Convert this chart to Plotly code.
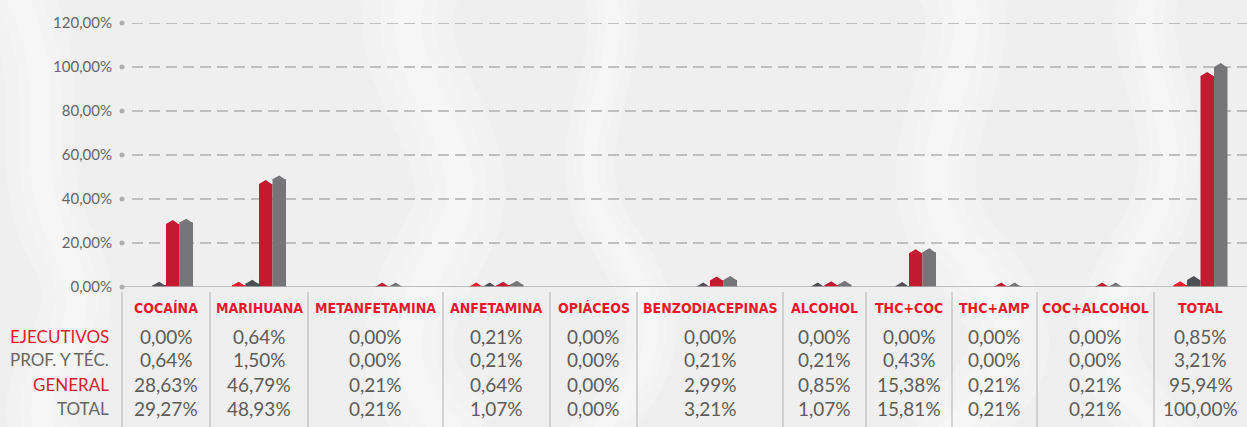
import plotly.graph_objects as go

# ---------------- data ----------------
categories = ["COCAÍNA", "MARIHUANA", "METANFETAMINA", "ANFETAMINA", "OPIÁCEOS",
              "BENZODIACEPINAS", "ALCOHOL", "THC+COC", "THC+AMP", "COC+ALCOHOL", "TOTAL"]
series_names = ["EJECUTIVOS", "PROF. Y TÉC.", "GENERAL", "TOTAL"]
ejecutivos = [0.00, 0.64, 0.00, 0.21, 0.00, 0.00, 0.00, 0.00, 0.00, 0.00, 0.85]
prof_tec = [0.64, 1.50, 0.00, 0.21, 0.00, 0.21, 0.21, 0.43, 0.00, 0.00, 3.21]
general = [28.63, 46.79, 0.21, 0.64, 0.00, 2.99, 0.85, 15.38, 0.21, 0.21, 95.94]
total = [29.27, 48.93, 0.21, 1.07, 0.00, 3.21, 1.07, 15.81, 0.21, 0.21, 100.00]
y_ticks = [0, 20, 40, 60, 80, 100, 120]


def pct(v):
    return f"{v:.2f}".replace(".", ",") + "%"


# ---------------- layout / style ----------------
W, H = 1247, 427
PLOT_LEFT, PLOT_TOP, PLOT_BOTTOM = 122, 23, 287
col_edges = [122, 210, 308, 443, 550, 637, 783, 866, 952, 1037, 1154, 1247]
centers = [(a + b) / 2 for a, b in zip(col_edges[:-1], col_edges[1:])]
bar_w = 13.5
bar_colors = ["#EC1C2D", "#4D4F53", "#C21A30", "#767679"]
label_colors = ["#E31B2E", "#666666", "#D21D33", "#666666"]
roof = 1.8  # roof height in y units
RED = "#E41A2C"
GRID = "#AEAEAE"
TXT = "#5C5C5C"
BG = "#EFEFEF"
VAL_FONT = "Lato, sans-serif"
HEAD_FONT = "DejaVu Sans Condensed, Liberation Sans Narrow, sans-serif"

series = [ejecutivos, prof_tec, general, total]


def px(p):
    """pixel column -> paper x (paper spans the whole width, margins l=r=0)"""
    return p / W


def py(p):
    """pixel row -> paper y"""
    return (PLOT_BOTTOM - p) / (PLOT_BOTTOM - PLOT_TOP)


fig = go.Figure()

for i, (name, vals) in enumerate(zip(series_names, series)):
    off = -2 * bar_w + i * bar_w
    fig.add_trace(go.Bar(
        x=centers, y=vals, width=bar_w, offset=off, name=name,
        marker=dict(color=bar_colors[i], line=dict(width=0)),
        hoverinfo="skip", showlegend=False))
    # pitched "roof" on top of each bar
    rx, ry = [], []
    for c, v in zip(centers, vals):
        if v <= 0:
            continue
        x0 = c + off
        rx += [x0, x0, x0 + bar_w / 2, x0 + bar_w, x0 + bar_w, x0, None]
        ry += [max(v - 0.3, 0), v, v + roof, v, max(v - 0.3, 0), max(v - 0.3, 0), None]
    fig.add_trace(go.Scatter(
        x=rx, y=ry, mode="lines", fill="toself", fillcolor=bar_colors[i],
        line=dict(width=0, color=bar_colors[i]), hoverinfo="skip",
        showlegend=False, connectgaps=False))

# dots at the start of each grid line
fig.add_trace(go.Scatter(
    x=[PLOT_LEFT] * len(y_ticks), y=y_ticks, mode="markers",
    marker=dict(size=5, color=GRID), cliponaxis=False,
    hoverinfo="skip", showlegend=False))

shapes = []
# soft white smoke bands in the background
smoke = [
    ("M 0.00 1.2 C 0.06 0.8, 0.01 0.5, 0.05 0.15 S 0.01 -0.3, 0.04 -0.6", 70),
    ("M 0.34 1.2 C 0.29 0.85, 0.40 0.55, 0.36 0.2 S 0.31 -0.3, 0.37 -0.6", 90),
    ("M 0.48 1.2 C 0.52 0.9, 0.44 0.55, 0.49 0.2 S 0.53 -0.3, 0.47 -0.6", 50),
    ("M 0.76 1.2 C 0.81 0.9, 0.71 0.5, 0.77 0.15 S 0.82 -0.3, 0.75 -0.6", 80),
    ("M 0.93 1.2 C 0.89 0.9, 0.97 0.6, 0.92 0.2 S 0.88 -0.3, 0.94 -0.6", 60),
]
for pth, w in smoke:
    for f in (1.0, 0.6, 0.3):
        shapes.append(dict(type="path", xref="paper", yref="paper", path=pth,
                           line=dict(color="rgba(255,255,255,0.2)", width=w * f),
                           layer="below"))
for t in y_ticks:
    if t == 0:
        shapes.append(dict(type="line", xref="x", yref="y", x0=PLOT_LEFT, x1=W,
                           y0=0, y1=0, line=dict(color=GRID, width=1.5), layer="above"))
    else:
        shapes.append(dict(type="line", xref="x", yref="y", x0=132, x1=W,
                           y0=t, y1=t, line=dict(color=GRID, width=1.3, dash="11px,6px"),
                           layer="below"))

for e in col_edges[:-1]:
    shapes.append(dict(type="line", xref="paper", yref="paper", x0=px(e), x1=px(e),
                       y0=py(292), y1=py(H + 2), line=dict(color="#C0C0C0", width=1.3)))

annotations = []
row_y = [336, 360, 384, 408]
for c, cat in zip(centers, categories):
    annotations.append(dict(x=px(c), y=py(308), xref="paper", yref="paper", text=f"<b>{cat}</b>",
                            showarrow=False, xanchor="center", yanchor="middle",
                            font=dict(family=HEAD_FONT, size=14, color=RED)))
for r, (name, vals) in enumerate(zip(series_names, series)):
    annotations.append(dict(x=px(111), y=py(row_y[r]), xref="paper", yref="paper", text=name,
                            showarrow=False, xanchor="right", yanchor="middle",
                            font=dict(family=VAL_FONT, size=17, color=label_colors[r])))
    for c, v in zip(centers, vals):
        annotations.append(dict(x=px(c), y=py(row_y[r]), xref="paper", yref="paper",
                                text=pct(v), showarrow=False, xanchor="center", yanchor="middle",
                                font=dict(family=VAL_FONT, size=19, color=TXT)))

fig.update_layout(
    width=W, height=H,
    margin=dict(l=0, r=0, t=PLOT_TOP, b=H - PLOT_BOTTOM, pad=0),
    paper_bgcolor=BG, plot_bgcolor="rgba(0,0,0,0)",
    barmode="overlay",
    xaxis=dict(domain=[PLOT_LEFT / W, 1], range=[PLOT_LEFT, W], showgrid=False,
               zeroline=False, showticklabels=False, ticks="", showline=False, fixedrange=True),
    yaxis=dict(range=[0, 120], tickvals=y_ticks, ticktext=[pct(t) for t in y_ticks],
               showgrid=False, zeroline=False, showline=False, ticks="",
               ticklabelstandoff=9, automargin=False,
               tickfont=dict(family=VAL_FONT, size=15, color="#666666"),
               fixedrange=True),
    shapes=shapes, annotations=annotations,
)

fig.write_html(
    "out.html",
    config={"displayModeBar": False},
    post_script="document.body.style.margin='0';document.body.style.overflow='hidden';"
                "document.documentElement.style.overflow='hidden';",
)
